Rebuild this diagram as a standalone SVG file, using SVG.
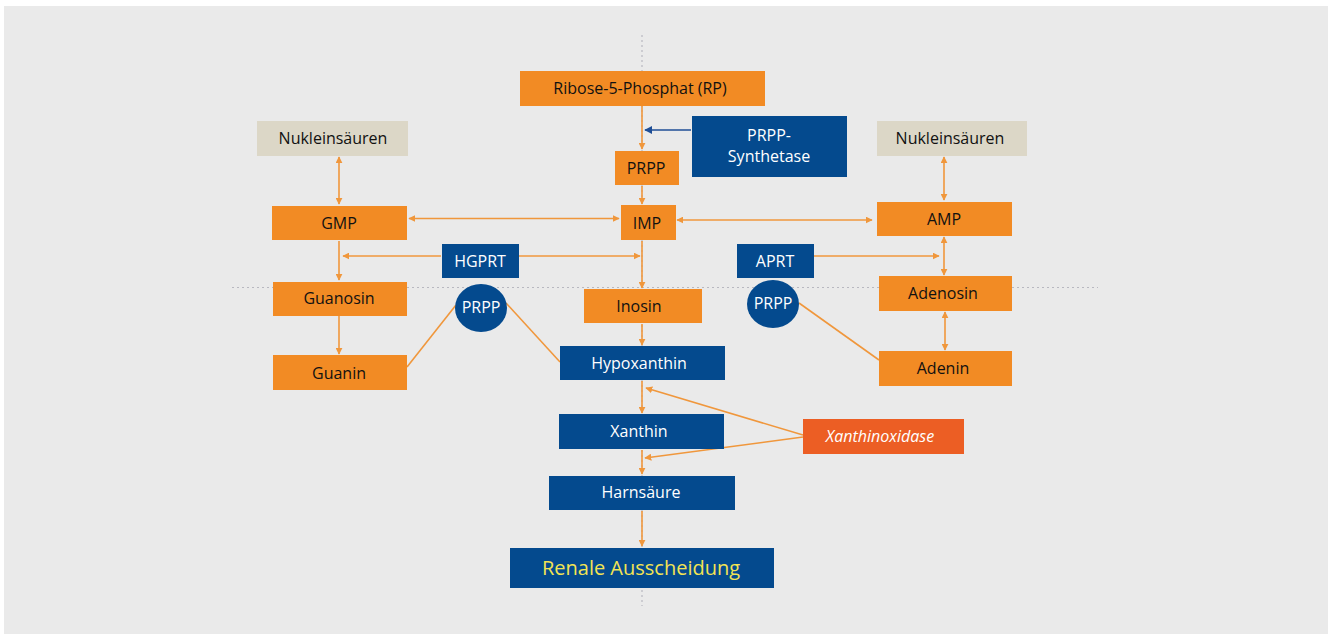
<svg xmlns="http://www.w3.org/2000/svg" width="1333" height="634" viewBox="0 0 1333 634">
<style>
.o{fill:#F28B24}
.b{fill:#044A8E}
.n{fill:#DCD7C7}
.t{font-family:"Open Sans","Noto Sans",sans-serif;font-size:16px;text-anchor:middle;fill:#111111}
.w{fill:#ffffff}
.c{stroke:#F0973C;stroke-width:1.6;fill:none}
.dot{stroke:#B8B8C0;stroke-width:1.2;stroke-dasharray:2 3;fill:none}
</style>
<defs>
<marker id="ah" viewBox="0 0 10 10" refX="9" refY="5" markerWidth="7" markerHeight="7" markerUnits="userSpaceOnUse" orient="auto-start-reverse">
<path d="M0,0 L10,5 L0,10 z" fill="#F0973C"/>
</marker>
<marker id="ahb" viewBox="0 0 10 10" refX="9" refY="5" markerWidth="8" markerHeight="8" markerUnits="userSpaceOnUse" orient="auto">
<path d="M0,0 L10,5 L0,10 z" fill="#1F4E96"/>
</marker>
</defs>
<rect x="0" y="0" width="1333" height="634" fill="#ffffff"/>
<rect x="4" y="6" width="1324" height="628" fill="#EAEAEA"/>
<g id="guides">
<line class="dot" x1="642" y1="35" x2="642" y2="606"/>
<line class="dot" x1="232" y1="287.5" x2="1098" y2="287.5"/>
</g>
<g id="connectors">
<line class="c" x1="642" y1="106" x2="642" y2="149" marker-end="url(#ah)"/>
<line x1="691" y1="130" x2="645" y2="130" stroke="#1F4E96" stroke-width="1.6" marker-end="url(#ahb)"/>
<line class="c" x1="642" y1="186" x2="642" y2="204" marker-end="url(#ah)"/>
<line class="c" x1="409" y1="218.5" x2="619" y2="218.5" marker-start="url(#ah)" marker-end="url(#ah)"/>
<line class="c" x1="677" y1="220" x2="872" y2="220" marker-start="url(#ah)" marker-end="url(#ah)"/>
<line class="c" x1="339" y1="157" x2="339" y2="204" marker-start="url(#ah)" marker-end="url(#ah)"/>
<line class="c" x1="944" y1="157" x2="944" y2="200" marker-start="url(#ah)" marker-end="url(#ah)"/>
<line class="c" x1="339" y1="241" x2="339" y2="280" marker-end="url(#ah)"/>
<line class="c" x1="441" y1="256" x2="343" y2="256" marker-end="url(#ah)"/>
<line class="c" x1="519" y1="256" x2="640" y2="256" marker-end="url(#ah)"/>
<line class="c" x1="814" y1="256" x2="939" y2="256" marker-end="url(#ah)"/>
<line class="c" x1="944" y1="237" x2="944" y2="275" marker-start="url(#ah)" marker-end="url(#ah)"/>
<line class="c" x1="945" y1="312" x2="945" y2="350" marker-start="url(#ah)" marker-end="url(#ah)"/>
<line class="c" x1="642" y1="241" x2="642" y2="288" marker-end="url(#ah)"/>
<line class="c" x1="339" y1="316" x2="339" y2="354" marker-end="url(#ah)"/>
<line class="c" x1="642" y1="324" x2="642" y2="345" marker-end="url(#ah)"/>
<line class="c" x1="642" y1="381" x2="642" y2="413" marker-end="url(#ah)"/>
<line class="c" x1="642" y1="450" x2="642" y2="474" marker-end="url(#ah)"/>
<line class="c" x1="642" y1="511" x2="642" y2="546" marker-end="url(#ah)"/>
<line class="c" x1="407" y1="367" x2="456" y2="305"/>
<line class="c" x1="506" y1="303" x2="560" y2="362"/>
<line class="c" x1="799" y1="303" x2="879" y2="360"/>
<line class="c" x1="803" y1="435" x2="646" y2="388" marker-end="url(#ah)"/>
<line class="c" x1="803" y1="437" x2="645" y2="458" marker-end="url(#ah)"/>
</g>
<g id="ribose"><rect class="o" x="520" y="71" width="245" height="35"/><text class="t" x="640" y="94">Ribose-5-Phosphat (RP)</text></g>
<g id="prpp-synthetase"><rect class="b" x="692" y="116" width="155" height="61"/><text class="t w" x="769" y="141">PRPP-</text><text class="t w" x="769" y="162">Synthetase</text></g>
<g id="prpp-top"><rect class="o" x="615" y="151" width="64" height="34"/><text class="t" x="646" y="174">PRPP</text></g>
<g id="nuk-left"><rect class="n" x="257" y="121" width="151" height="35"/><text class="t" x="333" y="144">Nukleinsäuren</text></g>
<g id="nuk-right"><rect class="n" x="877" y="121" width="150" height="35"/><text class="t" x="950" y="144">Nukleinsäuren</text></g>
<g id="gmp"><rect class="o" x="272" y="206" width="135" height="34"/><text class="t" x="339" y="229">GMP</text></g>
<g id="imp"><rect class="o" x="621" y="205" width="55" height="35"/><text class="t" x="647" y="229">IMP</text></g>
<g id="amp"><rect class="o" x="877" y="202" width="135" height="34"/><text class="t" x="944" y="225">AMP</text></g>
<g id="hgprt"><rect class="b" x="442" y="244" width="77" height="34"/><text class="t w" x="480" y="267">HGPRT</text></g>
<g id="aprt"><rect class="b" x="737" y="244" width="77" height="34"/><text class="t w" x="775" y="267">APRT</text></g>
<g id="guanosin"><rect class="o" x="273" y="282" width="134" height="34"/><text class="t" x="339" y="304">Guanosin</text></g>
<g id="inosin"><rect class="o" x="584" y="289" width="118" height="34"/><text class="t" x="639" y="312">Inosin</text></g>
<g id="adenosin"><rect class="o" x="879" y="276" width="133" height="35"/><text class="t" x="943" y="299">Adenosin</text></g>
<g id="prpp-left"><ellipse class="b" cx="481" cy="308" rx="26" ry="24"/><text class="t w" x="481" y="313">PRPP</text></g>
<g id="prpp-right"><ellipse class="b" cx="773" cy="304" rx="26" ry="24"/><text class="t w" x="773" y="309">PRPP</text></g>
<g id="guanin"><rect class="o" x="273" y="355" width="134" height="35"/><text class="t" x="339" y="379">Guanin</text></g>
<g id="hypoxanthin"><rect class="b" x="560" y="346" width="165" height="34"/><text class="t w" x="639" y="369">Hypoxanthin</text></g>
<g id="adenin"><rect class="o" x="879" y="351" width="133" height="35"/><text class="t" x="943" y="374">Adenin</text></g>
<g id="xanthin"><rect class="b" x="559" y="414" width="165" height="35"/><text class="t w" x="639" y="437">Xanthin</text></g>
<g id="xanthinoxidase"><rect x="803" y="419" width="161" height="35" fill="#EC5E24"/><text class="t w" x="880" y="442" font-style="italic">Xanthinoxidase</text></g>
<g id="harnsaeure"><rect class="b" x="549" y="476" width="186" height="34"/><text class="t w" x="641" y="498">Harnsäure</text></g>
<g id="renale"><rect class="b" x="510" y="548" width="264" height="40"/><text class="t" x="641" y="575" style="font-size:20px;fill:#F3E453">Renale Ausscheidung</text></g>
</svg>
